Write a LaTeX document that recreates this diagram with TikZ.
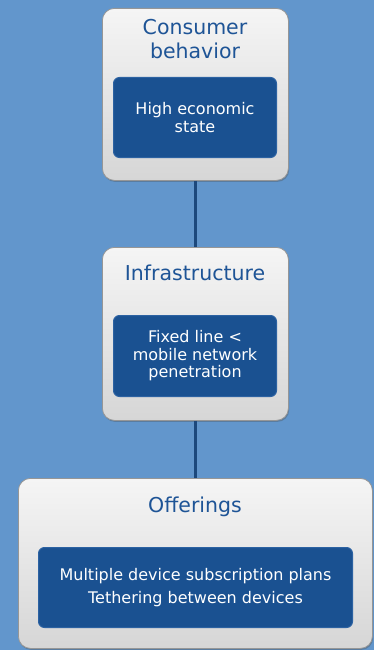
\documentclass[tikz,border=0pt]{standalone}
\usepackage{fontspec}
\setmainfont{DejaVu Sans}
\usetikzlibrary{shadows}
\definecolor{bgblue}{RGB}{98,150,204}
\definecolor{innerblue}{RGB}{26,81,145}
\definecolor{innerrim}{RGB}{44,98,162}
\definecolor{titleblue}{RGB}{30,84,150}
\definecolor{connblue}{RGB}{28,72,124}
\definecolor{boxtop}{RGB}{245,245,245}
\definecolor{boxbot}{RGB}{214,214,214}
\definecolor{boxrim}{RGB}{150,150,150}
\begin{document}
\begin{tikzpicture}[x=1pt,y=-1pt,
  outerbox/.style={draw=boxrim, line width=0.8pt, rounded corners=12pt,
    top color=boxtop, bottom color=boxbot, anchor=north west, inner sep=0pt,
    drop shadow={shadow xshift=0.8pt, shadow yshift=-1.5pt, opacity=0.35, fill=black!70}},
  innerbox/.style={draw=innerrim, line width=1pt, fill=innerblue, rounded corners=6pt,
    anchor=north west, inner sep=0pt, text=white, align=center,
    font=\fontsize{16}{17.5}\selectfont},
  titletext/.style={text=titleblue, align=center, inner sep=0pt,
    font=\fontsize{20.5}{24}\selectfont},
  conn/.style={draw=connblue, line width=3pt}]
\useasboundingbox (0,0) rectangle (374,650);
\fill[bgblue] (0,0) rectangle (374,650);

\node[outerbox, minimum width=186pt, minimum height=172pt] (b1) at (102,8) {};
\node[outerbox, minimum width=186pt, minimum height=173pt] (b2) at (102,247) {};
\node[outerbox, minimum width=354pt, minimum height=170pt] (b3) at (18,478) {};

\draw[conn] (b1.south) -- (b2.north);
\draw[conn] (b2.south) -- (b3.north);

\node[titletext, anchor=center] (t1) at (195,39) {Consumer\\behavior};
\node[titletext, anchor=base] (t2) at (195,280) {Infrastructure};
\node[titletext, anchor=base] (t3) at (195,512) {Offerings};

\node[innerbox, minimum width=163pt, minimum height=80pt] (i1) at (113,77) {High economic\\state};
\node[innerbox, minimum width=163pt, minimum height=81pt] (i2) at (113,315) {Fixed line <\\mobile network\\penetration};
\node[innerbox, minimum width=314pt, minimum height=80pt] (i3) at (38,547) {Multiple device subscription plans\\[6pt]Tethering between devices};
\end{tikzpicture}
\end{document}
